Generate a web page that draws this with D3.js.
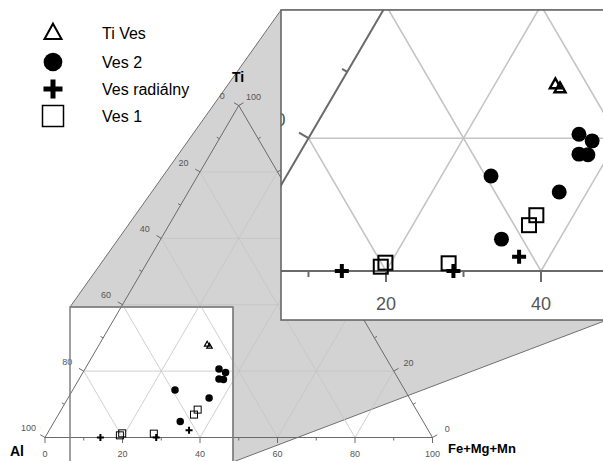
<!DOCTYPE html>
<html lang="sk">
<head>
<meta charset="UTF-8">
<title>Ternary Ti - Al - Fe+Mg+Mn</title>
<script src="https://d3js.org/d3.v7.min.js"></script>
<style>
    body { margin: 0; background: #fff; }
    svg { display: block; font-family: "Liberation Sans", Arial, sans-serif; }
</style>
</head>
<body>
<div id="chart"></div>
<script>
    // series values: [Ti, Fe+Mg+Mn] in %, Al is the remainder
    const seriesNames = ["Ti Ves", "Ves 2", "Ves radiálny", "Ves 1"];
    const tiVes = [[28.1, 27.8], [27.5, 28.7]];
    const ves2 = [[14.3, 26.4], [11.9, 36.4], [4.8, 32.5], [20.6, 34.6], [19.6, 36.8], [17.6, 36.1], [17.5, 37.3]];
    const vesRadialny = [[0, 14.3], [0, 28.7], [2.15, 36.1]];
    const ves1 = [[0.65, 19.0], [1.25, 19.3], [1.16, 27.5], [6.9, 35.0], [8.4, 35.2]];
    const tickValues = [0, 10, 20, 30, 40, 50, 60, 70, 80, 90, 100];
    const gridValues = [20, 40, 60, 80];
    const axisTitles = ["Ti", "Al", "Fe+Mg+Mn"];

    const width = 603, height = 461;

    const svg = d3.select("#chart").append("svg")
        .attr("width", width)
        .attr("height", height);

    // ternary -> screen
    const x = d3.scaleLinear().domain([0, 100]).range([45, 432.5]);
    const y = d3.scaleLinear().domain([0, 100]).range([437.5, 105.5]);
    const pos = (fe, ti) => [x(fe + ti / 2), y(ti)];

    // zoom window (small) and its enlarged view (big)
    const small = {x: 70, y: 307, w: 163, h: 155};
    const zoom = 2;
    const big = {x: 281, y: 10, w: small.w * zoom, h: small.h * zoom};

    const markers = {
        "Ti Ves": (g, s, sw) => g.append("path")
            .attr("d", `M0,${-s * 0.55}L${s * 0.5},${s * 0.35}L${-s * 0.5},${s * 0.35}Z`)
            .attr("fill", "none").attr("stroke", "#000").attr("stroke-width", sw),
        "Ves 2": (g, s) => g.append("circle").attr("r", s * 0.55).attr("fill", "#000"),
        "Ves radiálny": (g, s, sw) => g.append("path")
            .attr("d", `M${-s / 2},0H${s / 2}M0,${-s / 2}V${s / 2}`)
            .attr("stroke", "#000").attr("stroke-width", sw),
        "Ves 1": (g, s, sw) => g.append("rect")
            .attr("x", -s / 2).attr("y", -s / 2).attr("width", s).attr("height", s)
            .attr("fill", "none").attr("stroke", "#000").attr("stroke-width", sw)
    };
    const seriesData = [tiVes, ves2, vesRadialny, ves1];

    function drawTernary(g, keepText) {
        const line = d3.line();

        // grid
        gridValues.forEach(v => {
            [[pos(0, v), pos(100 - v, v)],
             [pos(v, 0), pos(v, 100 - v)],
             [pos(100 - v, 0), pos(0, 100 - v)]].forEach(seg => {
                g.append("path").attr("d", line(seg))
                    .attr("stroke", "#c4c4c4").attr("stroke-width", 0.8).attr("fill", "none");
            });
        });

        // triangle edges
        g.append("path")
            .attr("d", line([pos(0, 0), pos(100, 0), pos(0, 100)]) + "Z")
            .attr("fill", "none").attr("stroke", "#6a6a6a").attr("stroke-width", 1);

        // ticks and labels
        const edges = [
            {p: v => pos(v, 0), n: [0, 1], off: 16.5},                 // Fe+Mg+Mn
            {p: v => pos(0, 100 - v), n: [-0.866, -0.5], off: 19},    // Al
            {p: v => pos(100 - v, v), n: [0.866, -0.5], off: 17}      // Ti
        ];
        edges.forEach(e => {
            tickValues.forEach(v => {
                const [px, py] = e.p(v);
                const len = v % 20 === 0 ? 5.5 : 3;
                g.append("line")
                    .attr("x1", px).attr("y1", py)
                    .attr("x2", px + e.n[0] * len).attr("y2", py + e.n[1] * len)
                    .attr("stroke", "#6a6a6a").attr("stroke-width", 1);
                const lx = px + e.n[0] * e.off, ly = py + e.n[1] * e.off;
                if (v % 20 === 0 && keepText(lx, ly)) {
                    g.append("text")
                        .attr("x", lx).attr("y", ly)
                        .attr("dy", "0.35em")
                        .attr("text-anchor", "middle")
                        .attr("font-size", 9)
                        .attr("fill", "#555")
                        .text(v);
                }
            });
        });

        // axis titles
        if (keepText(238, 77)) {
            g.append("text").attr("x", 238).attr("y", 82).attr("text-anchor", "middle")
                .attr("font-size", 14).attr("font-weight", "bold").text(axisTitles[0]);
        }
        if (keepText(18, 451)) {
            g.append("text").attr("x", 10).attr("y", 456)
                .attr("font-size", 14).attr("font-weight", "bold").text(axisTitles[1]);
        }
        if (keepText(485, 448)) {
            g.append("text").attr("x", 448).attr("y", 453)
                .attr("font-size", 13).attr("font-weight", "bold").text(axisTitles[2]);
        }

        // points
        const sizes = [5.5, 6.8, 7, 7], strokes = [1.2, 0, 2, 1];
        seriesData.forEach((data, i) => {
            data.forEach(d => {
                const [px, py] = pos(d[1], d[0]);
                const m = g.append("g").attr("transform", `translate(${px},${py})`);
                markers[seriesNames[i]](m, sizes[i], strokes[i]);
            });
        });
    }

    // connector band
    const band = [
        [small.x, small.y], [big.x, big.y], [big.x + big.w, big.y],
        [big.x + big.w, big.y + big.h], [small.x + small.w, small.y + small.h],
        [small.x + small.w, small.y]
    ];
    svg.append("path")
        .attr("d", d3.line()(band) + "Z")
        .attr("fill", "#d3d3d3").attr("stroke", "#707070").attr("stroke-width", 1);

    drawTernary(svg.append("g"), () => true);

    svg.append("rect")
        .attr("x", small.x).attr("y", small.y).attr("width", small.w).attr("height", small.h)
        .attr("fill", "none").attr("stroke", "#808080").attr("stroke-width", 1.5);

    // legend
    const legend = svg.append("g");
    seriesNames.forEach((name, i) => {
        const ly = [33, 62, 89, 116][i];
        const m = legend.append("g").attr("transform", `translate(53,${ly})`);
        markers[name](m, [17, 17, 19, 21][i], [2, 0, 5, 1.5][i]);
        legend.append("text").attr("x", 102).attr("y", ly).attr("dy", "0.35em")
            .attr("font-size", 16).text(name);
    });

    // enlarged view
    svg.append("defs").append("clipPath").attr("id", "bigClip")
        .append("rect").attr("x", big.x).attr("y", big.y).attr("width", big.w).attr("height", big.h);
    svg.append("rect")
        .attr("x", big.x).attr("y", big.y).attr("width", big.w).attr("height", big.h)
        .attr("fill", "#fff");
    const inset = svg.append("g").attr("clip-path", "url(#bigClip)")
        .append("g")
        .attr("transform", `translate(${big.x},${big.y}) scale(${zoom}) translate(${-small.x},${-small.y})`);
    // only texts that reach into the zoom window
    drawTernary(inset, (lx, ly) => lx > small.x - 10 && lx < small.x + small.w - 10 &&
        ly > small.y && ly < small.y + small.h);
    svg.append("rect")
        .attr("x", big.x).attr("y", big.y).attr("width", big.w).attr("height", big.h)
        .attr("fill", "none").attr("stroke", "#606060").attr("stroke-width", 1.5);
</script>
</body>
</html>
